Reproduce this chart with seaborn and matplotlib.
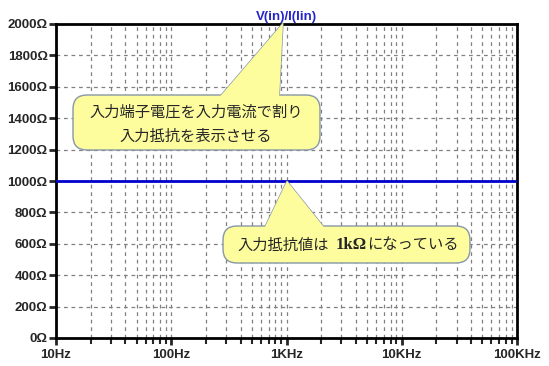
import numpy as np
import pandas as pd
import matplotlib
matplotlib.use("Agg")
import matplotlib.pyplot as plt
import matplotlib.transforms as mtransforms
from matplotlib.patches import FancyBboxPatch, Polygon
from matplotlib.ticker import FixedLocator, LogLocator, NullFormatter
import seaborn as sns

# data
freq = [10, 100, 1000, 10000, 100000]
resistance = [1000, 1000, 1000, 1000, 1000]
x_ticks = [10, 100, 1000, 10000, 100000]
x_labels = ["10Hz", "100Hz", "1KHz", "10KHz", "100KHz"]
y_ticks = [0, 200, 400, 600, 800, 1000, 1200, 1400, 1600, 1800, 2000]
y_labels = [f"{v}Ω" for v in y_ticks]
title = "V(in)/I(lin)"
note1 = ["入力端子電圧を入力電流で割り", "入力抵抗を表示させる"]
note2 = ["入力抵抗値は", "1kΩ", "になっている"]

sns.set_style("white")
plt.rcParams["font.family"] = ["Liberation Sans", "DejaVu Sans"]

df = pd.DataFrame({"freq": freq, "R": resistance})

fig = plt.figure(figsize=(5.49, 3.66), dpi=100)
ax = fig.add_axes([56 / 549, 1 - 338 / 366, (517 - 56) / 549, (338 - 24) / 366])

sns.lineplot(data=df, x="freq", y="R", ax=ax, color="#0000cc", linewidth=2, zorder=3)

ax.set_xscale("log")
ax.set_xlim(10, 100000)
ax.set_ylim(0, 2000)
ax.xaxis.set_major_locator(FixedLocator(x_ticks))
ax.set_xticklabels(x_labels, fontweight="bold", fontsize=9.5)
ax.xaxis.set_minor_locator(LogLocator(base=10, subs=np.arange(2, 10)))
ax.xaxis.set_minor_formatter(NullFormatter())
ax.set_yticks(y_ticks)
ax.set_yticklabels(y_labels, fontweight="bold", fontsize=9.5)
ax.set_xlabel("")
ax.set_ylabel("")

ax.tick_params(axis="x", which="major", direction="out", length=5, width=2, bottom=True, pad=3)
ax.tick_params(axis="x", which="minor", direction="out", length=4, width=1.5, bottom=True)
ax.tick_params(axis="y", which="major", direction="out", length=5, width=2, left=True, pad=1)

ax.grid(True, which="both", axis="x", color="#808080", linestyle=(0, (3, 3)), linewidth=0.9)
ax.grid(True, which="major", axis="y", color="#808080", linestyle=(0, (3, 3)), linewidth=0.9)

for s in ax.spines.values():
    s.set_color("black")
    s.set_linewidth(2)

ax.set_title(title, color="#2424c8", fontweight="bold", fontsize=9.5, pad=3)

# callouts in figure pixel coordinates (y from top)
tr = mtransforms.Affine2D().scale(0.01, -0.01).translate(0, 3.66) + fig.dpi_scale_trans
fill = "#fdfd9e"
edge = "#8797a6"


def callout(x0, y0, x1, y1, pointer):
    tri_edge = Polygon(pointer, closed=True, facecolor=fill, edgecolor=edge,
                       linewidth=1, transform=tr, zorder=10, clip_on=False)
    box = FancyBboxPatch((x0, y0), x1 - x0, y1 - y0,
                         boxstyle="round,pad=0,rounding_size=14",
                         facecolor=fill, edgecolor=edge, linewidth=1,
                         transform=tr, zorder=11, clip_on=False)
    tri_fill = Polygon(pointer, closed=True, facecolor=fill, edgecolor="none",
                       transform=tr, zorder=12, clip_on=False)
    for p in (tri_edge, box, tri_fill):
        fig.add_artist(p)


callout(73, 95, 320, 150, [(217, 100), (283, 23), (279, 100)])
callout(223, 226, 470, 263, [(263, 231), (287, 181), (327, 231)])

cjk = ["Noto Sans CJK JP", "DejaVu Sans"]
fig.text(196 / 549, 1 - 112 / 366, note1[0], family=cjk, fontsize=11,
         ha="center", va="center", zorder=13)
fig.text(196 / 549, 1 - 136 / 366, note1[1], family=cjk, fontsize=11,
         ha="center", va="center", zorder=13)

fig.text(237 / 549, 1 - 245 / 366, note2[0], family=cjk, fontsize=11,
         ha="left", va="center", zorder=13)
fig.text(336 / 549, 1 - 245 / 366, note2[1], family=["Liberation Serif", "DejaVu Serif"],
         fontsize=12, fontweight="bold", ha="left", va="center", zorder=13)
fig.text(367 / 549, 1 - 245 / 366, note2[2], family=cjk, fontsize=11,
         ha="left", va="center", zorder=13)

fig.savefig("out.png", dpi=100)
